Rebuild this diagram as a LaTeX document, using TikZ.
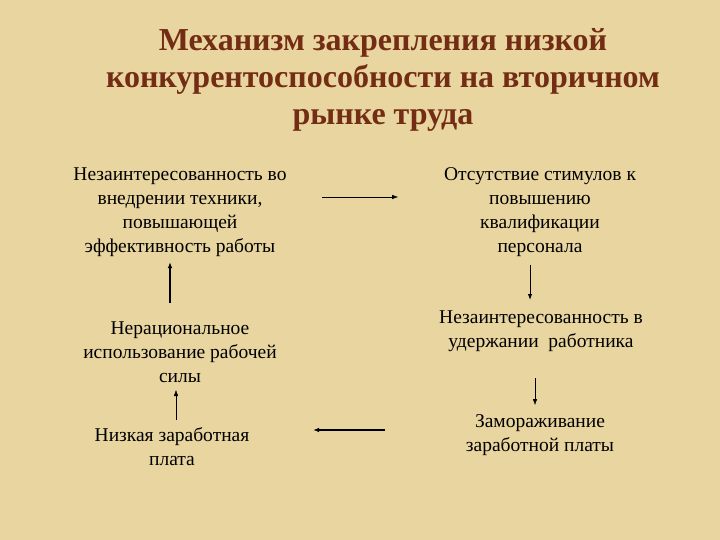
\documentclass[tikz,border=0pt]{standalone}
\usepackage{fontspec}
\usetikzlibrary{arrows.meta}
\setmainfont{Liberation Serif}
\definecolor{bg}{RGB}{232,213,160}
\definecolor{ttl}{RGB}{115,45,20}
\begin{document}
\begin{tikzpicture}[x=1pt,y=-1pt,
  txt/.style={align=center,font=\fontsize{19.5}{24}\selectfont,inner sep=0pt},
  ar/.style={-{Latex[length=6pt,width=4.5pt]},black}]
\fill[bg] (0,0) rectangle (720,540);
\useasboundingbox (0,0) rectangle (720,540);
\node[align=center,text=ttl,font=\fontsize{32}{37}\selectfont\bfseries,inner sep=0pt] (t) at (383,80)
 {Механизм закрепления низкой\\конкурентоспособности на вторичном\\рынке труда};
\node[txt] (l1) at (180,212) {Незаинтересованность во\\внедрении техники,\\повышающей\\эффективность работы};
\node[txt] (r1) at (540,212) {Отсутствие стимулов к\\повышению\\квалификации\\персонала};
\node[txt] (l2) at (180,352) {Нерациональное\\использование рабочей\\силы};
\node[txt] (r2) at (541,331) {Незаинтересованность в\\удержании\ \ работника};
\node[txt] (l3) at (172,447) {Низкая заработная\\плата};
\node[txt] (r3) at (540,435) {Замораживание\\заработной платы};
\coordinate (a1) at (322,197); \coordinate (a2) at (398,197);
\draw[ar,thin] (a1) -- (a2);
\coordinate (b1) at (170,303); \coordinate (b2) at (170,262);
\draw[ar,line width=1.2pt] (b1) -- (b2);
\coordinate (c1) at (530,265); \coordinate (c2) at (530,300);
\draw[ar,line width=1pt] (c1) -- (c2);
\coordinate (d1) at (535,378); \coordinate (d2) at (535,405);
\draw[ar,thin] (d1) -- (d2);
\coordinate (e1) at (176,420); \coordinate (e2) at (176,390);
\draw[ar,thin] (e1) -- (e2);
\coordinate (f1) at (385,430); \coordinate (f2) at (313,430);
\draw[ar,line width=1.2pt] (f1) -- (f2);
\end{tikzpicture}
\end{document}
